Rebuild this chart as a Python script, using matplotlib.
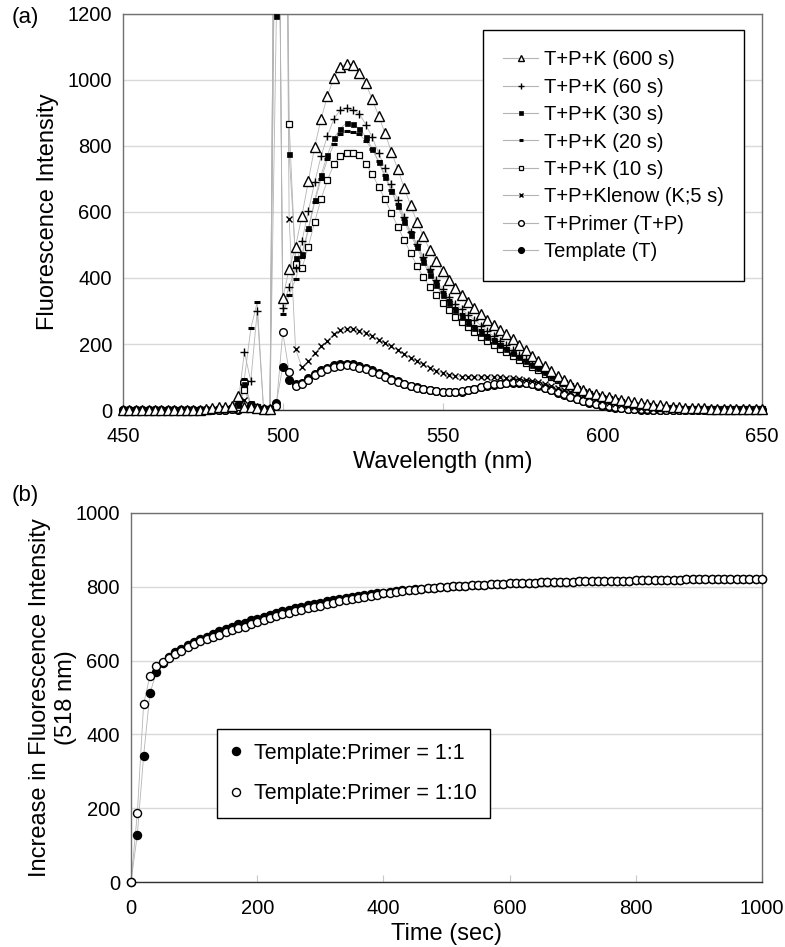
import numpy as np
import matplotlib
matplotlib.use("Agg")
import matplotlib.pyplot as plt
from matplotlib.lines import Line2D

plt.rcParams['font.family'] = ['Liberation Sans', 'DejaVu Sans']

# ---------------- data: panel (a) ----------------
wavelength = np.arange(450, 652, 2)
zeros13 = [0] * 13

tpk_600 = zeros13 + [4, 5, 8, 10, 12, 42, 9, 8, 5, 2, 2,
    2500, 338, 428, 495, 588, 693, 798, 882, 952, 1007, 1040, 1049, 1044, 1020, 990, 941,
    892, 839, 782, 730, 673, 621, 570, 527, 485, 452, 421, 394, 370, 348, 327, 309,
    290, 273, 257, 243, 230, 214, 198, 182, 164, 147, 132, 117, 103, 90, 79, 69, 60, 53,
    47, 42, 38, 34, 30, 27, 24, 21, 19, 16, 14, 12, 10, 8, 7, 6, 5, 5, 4, 4, 4, 4, 3, 3, 3, 3, 3]
tpk_60 = zeros13 + [0, 0, 2, 3, 5, 20, 175, 88, 299, 2, 2,
    2500, 309, 374, 429, 512, 602, 690, 769, 831, 882, 909, 916, 909, 897, 865, 826,
    779, 733, 685, 636, 585, 539, 503, 464, 426, 394, 366, 341, 322, 306, 289, 273,
    256, 240, 224, 210, 196, 182, 168, 155, 142, 130, 118, 107, 96, 86, 77, 68, 60, 53,
    46, 40, 35, 30, 26, 22, 19, 16, 13, 11, 9, 7, 6, 5, 4, 4, 3, 3, 3, 2, 2, 2, 2, 2, 2, 2, 2]
tpk_30 = zeros13 + [0, 0, 2, 3, 5, 15, 80, 20, 10, 2, 2,
    1194, 3000, 776, 460, 472, 550, 636, 712, 774, 823, 853, 870, 866, 853, 828, 792,
    751, 706, 664, 618, 570, 530, 494, 448, 409, 379, 348, 324, 303, 282, 264, 248,
    234, 221, 208, 196, 184, 172, 160, 148, 137, 126, 115, 104, 94, 84, 75, 66, 58, 51,
    44, 38, 33, 28, 24, 20, 17, 14, 12, 10, 8, 6, 5, 4, 4, 3, 3, 3, 2, 2, 2, 2, 2, 2, 2, 2, 2]
tpk_20 = zeros13 + [0, 0, 2, 3, 5, 25, 95, 247, 326, 2, 2,
    2500, 290, 349, 396, 465, 545, 630, 700, 760, 805, 835, 845, 843, 835, 815, 790,
    755, 712, 668, 624, 578, 538, 500, 458, 420, 388, 358, 332, 310, 290, 272, 256,
    242, 228, 214, 200, 187, 174, 162, 150, 138, 127, 116, 105, 95, 85, 76, 67, 59, 52,
    45, 39, 34, 29, 25, 21, 18, 15, 12, 10, 8, 7, 5, 4, 4, 3, 3, 3, 2, 2, 2, 2, 2, 2, 2, 2, 2]
tpk_10 = zeros13 + [0, 0, 2, 3, 5, 10, 60, 15, 8, 2, 2,
    2000, 3000, 868, 441, 429, 495, 570, 640, 697, 745, 770, 779, 778, 772, 745, 716,
    676, 639, 597, 555, 515, 476, 436, 403, 373, 348, 324, 303, 282, 267, 251, 236,
    222, 210, 198, 186, 175, 163, 152, 141, 130, 120, 110, 100, 90, 81, 72, 64, 56, 49,
    43, 37, 32, 27, 23, 19, 16, 13, 11, 9, 7, 6, 5, 4, 3, 3, 3, 2, 2, 2, 2, 2, 2, 2, 2, 2, 2]
tpk_5 = zeros13 + [0, 0, 1, 2, 3, 5, 30, 10, 5, 2, 2,
    2000, 3000, 580, 186, 129, 147, 172, 193, 210, 231, 241, 246, 244, 239, 232, 224,
    213, 203, 193, 181, 170, 159, 149, 139, 128, 119, 111, 106, 104, 101, 101, 100,
    100, 100, 100, 99, 98, 96, 94, 91, 88, 84, 79, 74, 68, 62, 56, 50, 44, 38,
    32, 27, 22, 18, 14, 11, 8, 6, 5, 4, 3, 2, 2, 2, 2, 2, 1, 1, 1, 1, 1, 1, 1, 1, 1, 1, 1]
tp = zeros13 + [0, 0, 0, 1, 2, 3, 85, 10, 4, 3, 3,
    12, 236, 116, 73, 78, 92, 106, 116, 124, 131, 134, 136, 133, 128, 123, 116,
    108, 101, 92, 85, 78, 72, 68, 65, 60, 57, 56, 56, 56, 57, 62, 65,
    70, 75, 78, 80, 82, 84, 84, 82, 79, 75, 68, 61, 54, 47, 40, 34, 28, 23,
    18, 15, 11, 8, 6, 4, 3, 2, 2, 1, 1, 1, 1, 1, 0, 0, 0, 0, 0, 0, 0, 0, 0, 0, 0, 0, 0]
t_only = zeros13 + [0, 0, 0, 0, 2, 0, 83, 15, 5, 1, 1,
    22, 131, 90, 78, 82, 96, 110, 120, 128, 135, 139, 140, 138, 133, 127, 120,
    112, 104, 95, 87, 80, 74, 69, 65, 60, 57, 55, 55, 55, 56, 61, 64,
    69, 74, 77, 79, 81, 83, 83, 81, 78, 74, 67, 60, 53, 46, 39, 33, 27, 22,
    17, 13, 10, 7, 5, 3, 2, 1, 1, 1, 0, 0, 0, 0, 0, 0, 0, 0, 0, 0, 0, 0, 0, 0, 0, 0, 0]

labels_a = ["T+P+K (600 s)", "T+P+K (60 s)", "T+P+K (30 s)", "T+P+K (20 s)",
            "T+P+K (10 s)", "T+P+Klenow (K;5 s)", "T+Primer (T+P)", "Template (T)"]
values_a = [tpk_600, tpk_60, tpk_30, tpk_20, tpk_10, tpk_5, tp, t_only]
styles_a = [
    dict(marker='^', ms=6.5, mfc='white', mec='black', mew=1.0),
    dict(marker='+', ms=5.5, mfc='black', mec='black', mew=1.0),
    dict(marker='s', ms=3.6, mfc='black', mec='black', mew=0.5),
    dict(marker='_', ms=4.5, mfc='black', mec='black', mew=2.2),
    dict(marker='s', ms=3.8, mfc='white', mec='black', mew=0.9),
    dict(marker='x', ms=4.5, mfc='black', mec='black', mew=1.0),
    dict(marker='o', ms=5.5, mfc='white', mec='black', mew=1.0),
    dict(marker='o', ms=5.5, mfc='black', mec='black', mew=1.0),
]

# ---------------- data: panel (b) ----------------
time_s = np.arange(0, 1010, 10)
ratio_1_1 = [0, 128, 342, 511, 568, 593, 610, 622, 632, 641, 650, 658, 665, 672, 679, 685,
    692, 698, 703, 709, 714, 719, 724, 729, 734, 738, 742, 746, 750, 754, 757, 761, 764, 767,
    770, 773, 776, 778, 780, 782, 784, 786, 788, 790, 791, 793, 795, 796, 798, 799, 800,
    801, 802, 803, 804, 805, 806, 807, 808, 808, 809, 810, 810, 811, 811, 812, 812, 813, 813,
    814, 814, 815, 815, 815, 816, 816, 816, 817, 817, 817, 818, 818, 818, 818, 819, 819, 819,
    819, 820, 820, 820, 820, 821, 821, 821, 821, 821, 822, 822, 822, 822]
ratio_1_10 = [0, 186, 482, 559, 585, 597, 607, 617, 626, 636, 645, 652, 658, 664, 670, 677,
    684, 688, 692, 699, 705, 711, 716, 721, 726, 730, 734, 738, 742, 746, 749, 753, 757, 761,
    765, 768, 770, 773, 775, 779, 782, 784, 786, 788, 790, 792, 794, 796, 797, 799, 800,
    801, 802, 803, 804, 805, 806, 807, 808, 808, 809, 810, 810, 811, 811, 812, 812, 813, 813,
    814, 814, 815, 815, 815, 816, 816, 816, 817, 817, 817, 818, 818, 818, 818, 819, 819, 819,
    819, 820, 820, 820, 820, 821, 821, 821, 821, 821, 822, 822, 822, 822]
labels_b = ["Template:Primer = 1:1", "Template:Primer = 1:10"]

LINE_C = '#b4b4b4'
GRID_C = '#d9d9d9'
SPINE_C = '#707070'

W, H = 785, 947
fig = plt.figure(figsize=(W / 100, H / 100), dpi=100)


def axrect(l, t, r, b):
    return [l / W, 1 - b / H, (r - l) / W, (b - t) / H]


def style_axes(ax):
    ax.set_axisbelow(True)
    ax.yaxis.grid(True, color=GRID_C, lw=1.0)
    for s in ax.spines.values():
        s.set_color(SPINE_C)
        s.set_linewidth(1.0)
    ax.spines['bottom'].set_color('#303030')
    ax.tick_params(axis='x', direction='in', length=5, color='#c8c8c8', pad=12, labelsize=14.5)
    ax.tick_params(axis='y', length=0, pad=8, labelsize=14.5)


# ---------------- panel (a) ----------------
ax1 = fig.add_axes(axrect(123, 14, 762, 410))
style_axes(ax1)
order = list(range(len(values_a)))[::-1]
for z, k in enumerate(order):
    v = np.array(values_a[k], dtype=float)
    ax1.plot(wavelength, v, color=LINE_C, lw=0.6, zorder=2)
    ax1.plot(wavelength, np.ma.masked_greater(v, 1200), ls='none', clip_on=False,
             zorder=3 + z, **styles_a[k])
ax1.set_xlim(450, 650)
ax1.set_ylim(0, 1200)
ax1.set_xticks([450, 500, 550, 600, 650])
ax1.set_yticks(range(0, 1201, 200))
ax1.set_xlabel("Wavelength (nm)", fontsize=17, labelpad=4)
ax1.set_ylabel("Fluorescence Intensity", fontsize=17, labelpad=6)

handles_a = []
for st in styles_a:
    st2 = dict(st)
    st2['ms'] = st['ms'] * 0.75
    handles_a.append(Line2D([], [], color=LINE_C, lw=0.8, **st2))
leg = ax1.legend(handles_a, labels_a, loc='upper left',
                 bbox_to_anchor=(483 / W, 1 - 30 / H), bbox_transform=fig.transFigure,
                 frameon=True, fancybox=False, edgecolor='black', fontsize=14.5,
                 labelspacing=0.42, handlelength=1.75, handletextpad=0.3,
                 borderpad=1.0, borderaxespad=0, framealpha=1)
leg.get_frame().set_linewidth(1.0)
leg.set_zorder(20)

# ---------------- panel (b) ----------------
ax2 = fig.add_axes(axrect(131, 513, 762, 882))
style_axes(ax2)
styles_b = [dict(marker='o', ms=5.8, mfc='black', mec='black', mew=1.0),
            dict(marker='o', ms=5.8, mfc='white', mec='black', mew=1.0)]
for k, v in enumerate([ratio_1_1, ratio_1_10]):
    ax2.plot(time_s, v, color=LINE_C, lw=0.6, zorder=2)
    ax2.plot(time_s, v, ls='none', clip_on=False, zorder=3 + k, **styles_b[k])
ax2.set_xlim(0, 1000)
ax2.set_ylim(0, 1000)
ax2.set_xticks(range(0, 1001, 200))
ax2.set_yticks(range(0, 1001, 200))
ax2.set_xlabel("Time (sec)", fontsize=17, labelpad=4)
ax2.set_ylabel("Increase in Fluorescence Intensity\n(518 nm)", fontsize=17,
               linespacing=1.25)
ax2.yaxis.set_label_coords(-0.085, 0.5)
handles_b = [Line2D([], [], ls='none', **st) for st in styles_b]
leg2 = ax2.legend(handles_b, labels_b, loc='upper left',
                  bbox_to_anchor=(217 / W, 1 - 729 / H), bbox_transform=fig.transFigure,
                  frameon=True, fancybox=False, edgecolor='black', fontsize=15.5,
                  labelspacing=0.9, handlelength=0.45, handletextpad=0.6,
                  borderpad=0.65, borderaxespad=0, framealpha=1)
leg2.get_frame().set_linewidth(1.0)

fig.text(12 / W, 1 - 18 / H, "(a)", fontsize=16, va='center', ha='left')
fig.text(12 / W, 1 - 495 / H, "(b)", fontsize=16, va='center', ha='left')

fig.savefig("out.png", dpi=100)
